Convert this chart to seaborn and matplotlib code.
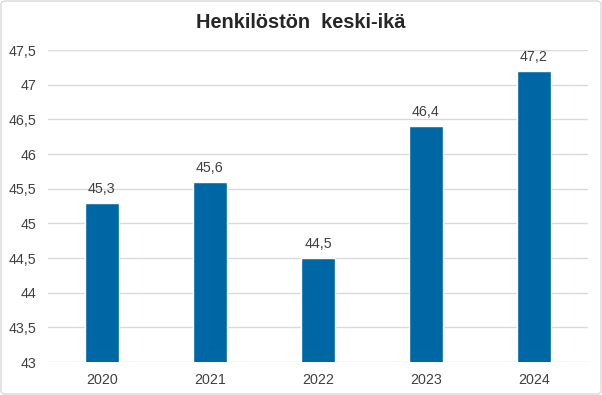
import matplotlib
matplotlib.use("Agg")
import matplotlib.pyplot as plt
import seaborn as sns
import pandas as pd
from matplotlib.patches import FancyBboxPatch

years = ["2020", "2021", "2022", "2023", "2024"]
ages = [45.3, 45.6, 44.5, 46.4, 47.2]
yticks = [43, 43.5, 44, 44.5, 45, 45.5, 46, 46.5, 47, 47.5]
title = "Henkilöstön  keski-ikä"

sns.set_theme(style="white")
plt.rcParams['font.family'] = ['Liberation Sans', 'DejaVu Sans']

df = pd.DataFrame({"year": years, "age": ages})
fig = plt.figure(figsize=(6.02, 3.95), dpi=100)
ax = fig.add_axes([48/602, 1 - 362/395, 540/602, 312/395])

bar_color = "#0067A5"
sns.barplot(data=df, x="year", y="age", ax=ax, color=bar_color, width=0.31,
            saturation=1, zorder=3)
ax.set_ylim(43, 47.5)
ax.set_xlim(-0.5, 4.5)
ax.set_yticks(yticks)
ax.set_yticklabels([("%g" % v).replace(".", ",") for v in yticks])
ax.yaxis.grid(True, color="#D9D9D9", linewidth=1, zorder=0)
ax.xaxis.grid(False)
for s in ax.spines.values():
    s.set_visible(False)
ax.tick_params(axis="both", length=0, labelsize=10.3, colors="#404040")
ax.tick_params(axis="y", pad=8.5)
ax.tick_params(axis="x", pad=8)
ax.set_xlabel("")
ax.set_ylabel("")

for i, v in enumerate(ages):
    ax.annotate(("%.1f" % v).replace(".", ","), (i, v), xytext=(0, 5),
                textcoords="offset points", ha="center", va="bottom",
                fontsize=10.3, color="#404040")

fig.text(0.5, 1 - 22/395, title, ha="center", va="center",
         fontsize=14.4, fontweight="bold", color="#262626")

border = FancyBboxPatch((1/602, 1/395), 600/602, 393/395,
                        boxstyle="round,pad=0,rounding_size=0.008",
                        transform=fig.transFigure, fill=False,
                        edgecolor="#D9D9D9", linewidth=1)
fig.patches.append(border)

fig.savefig("out.png", dpi=100)
